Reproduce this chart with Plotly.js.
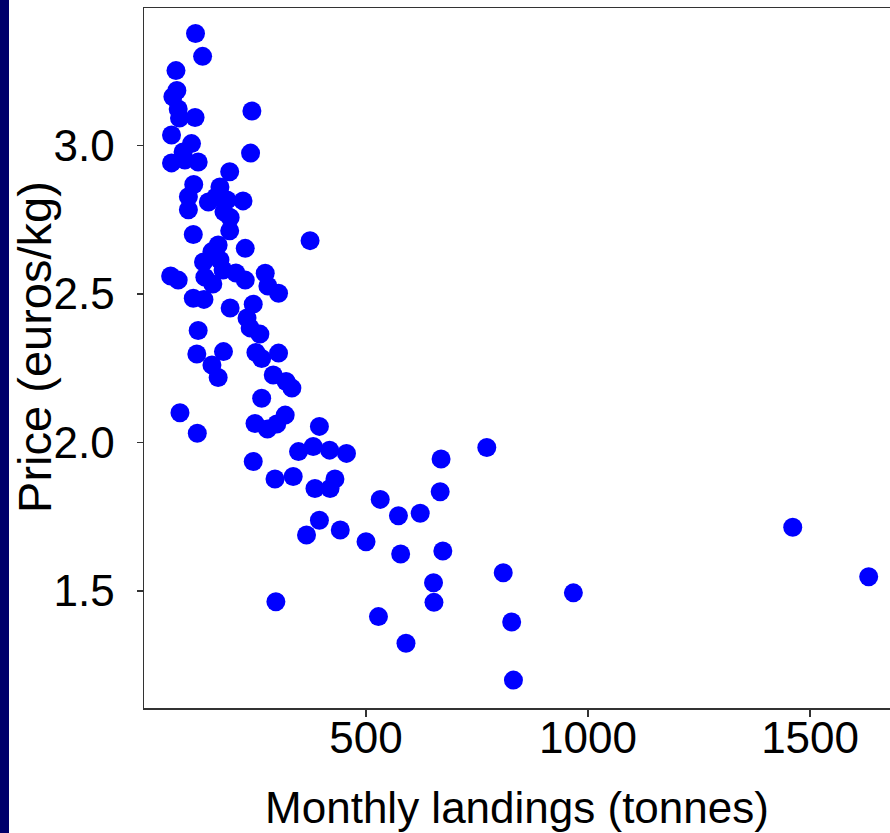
<!DOCTYPE html>
<html>
<head>
<meta charset="utf-8">
<script src="https://cdn.plot.ly/plotly-3.0.1.min.js"></script>
<style>
  html, body { margin: 0; padding: 0; background: #ffffff; overflow: hidden; }
  #chart { width: 890px; height: 833px; }
  #strip { position: absolute; left: 0; top: 0; width: 9px; height: 833px; background: #00006b; z-index: 10; }
</style>
</head>
<body>
<div id="strip"></div>
<div id="chart"></div>
<script>
// Monthly landings (tonnes)
const landings = [116,132,72,74,65,77,80,115,243,62,107,240,62,92,122,88,193,112,100,100,
  171,162,145,187,223,180,194,193,111,167,228,374,153,134,171,60,77,137,178,207,
  228,155,273,279,303,111,135,194,246,232,239,261,122,119,179,153,167,252,265,303,
  291,320,333,265,81,120,250,278,299,318,395,348,381,418,456,246,669,295,336,385,
  419,430,532,573,622,667,772,395,366,442,500,578,673,809,652,653,297,528,828,590,
  832,967,1461,1632];
// Price (euros/kg)
const prices = [3.378,3.301,3.253,3.186,3.165,3.124,3.093,3.095,3.117,3.036,3.007,2.975,2.942,2.952,2.945,2.979,2.912,2.869,2.828,2.784,
  2.861,2.827,2.810,2.817,2.814,2.777,2.758,2.713,2.701,2.665,2.654,2.680,2.643,2.608,2.615,2.561,2.547,2.557,2.581,2.571,
  2.547,2.534,2.570,2.527,2.503,2.486,2.482,2.453,2.466,2.419,2.386,2.365,2.377,2.298,2.306,2.261,2.219,2.303,2.283,2.301,
  2.227,2.205,2.183,2.149,2.100,2.031,2.064,2.045,2.062,2.092,2.054,1.969,1.986,1.974,1.963,1.936,1.944,1.877,1.885,1.845,
  1.845,1.877,1.808,1.753,1.761,1.834,1.983,1.738,1.688,1.705,1.665,1.624,1.634,1.561,1.527,1.461,1.463,1.413,1.395,1.323,
  1.199,1.493,1.714,1.547];

const xTicks = [500, 1000, 1500];
const xTickText = ['500', '1000', '1500'];
const yTicks = [1.5, 2.0, 2.5, 3.0];
const yTickText = ['1.5', '2.0', '2.5', '3.0'];

const xTitle = 'Monthly landings (tonnes)';
const yTitle = 'Price (euros/kg)';

const fontFam = 'Liberation Sans, Arial, sans-serif';

const trace = {
  type: 'scatter',
  mode: 'markers',
  x: landings,
  y: prices,
  marker: { color: '#0000ff', size: 19, line: { width: 0 } },
  hoverinfo: 'x+y'
};

const layout = {
  width: 890,
  height: 833,
  margin: { l: 144, r: 0, t: 8, b: 125 },
  paper_bgcolor: '#ffffff',
  plot_bgcolor: '#ffffff',
  showlegend: false,
  font: { family: fontFam, size: 44, color: '#000000' },
  xaxis: {
    range: [0, 1680],
    tickvals: xTicks,
    ticktext: xTickText,
    ticks: 'outside',
    ticklen: 7,
    tickwidth: 1.5,
    tickcolor: '#333333',
    showline: true,
    linecolor: '#333333',
    linewidth: 1.5,
    mirror: true,
    showgrid: false,
    zeroline: false,
    tickfont: { family: fontFam, size: 44, color: '#000000' },
    ticklabelstandoff: -16,
    title: { text: xTitle, font: { family: fontFam, size: 44, color: '#000000' }, standoff: 31 },
    automargin: false
  },
  yaxis: {
    range: [1.105, 3.464],
    tickvals: yTicks,
    ticktext: yTickText,
    ticks: 'outside',
    ticklen: 6,
    tickwidth: 1.5,
    tickcolor: '#333333',
    showline: true,
    linecolor: '#333333',
    linewidth: 1.5,
    showgrid: false,
    zeroline: false,
    tickfont: { family: fontFam, size: 44, color: '#000000' },
    ticklabelstandoff: 13,
    automargin: false
  },
  annotations: [{
    text: yTitle,
    textangle: -90,
    xref: 'paper', yref: 'paper',
    x: -0.146, y: 0.516,
    xanchor: 'center', yanchor: 'middle',
    showarrow: false,
    font: { family: fontFam, size: 47, color: '#000000' }
  }]
};

Plotly.newPlot('chart', [trace], layout, { displayModeBar: false, staticPlot: true });
</script>
</body>
</html>
